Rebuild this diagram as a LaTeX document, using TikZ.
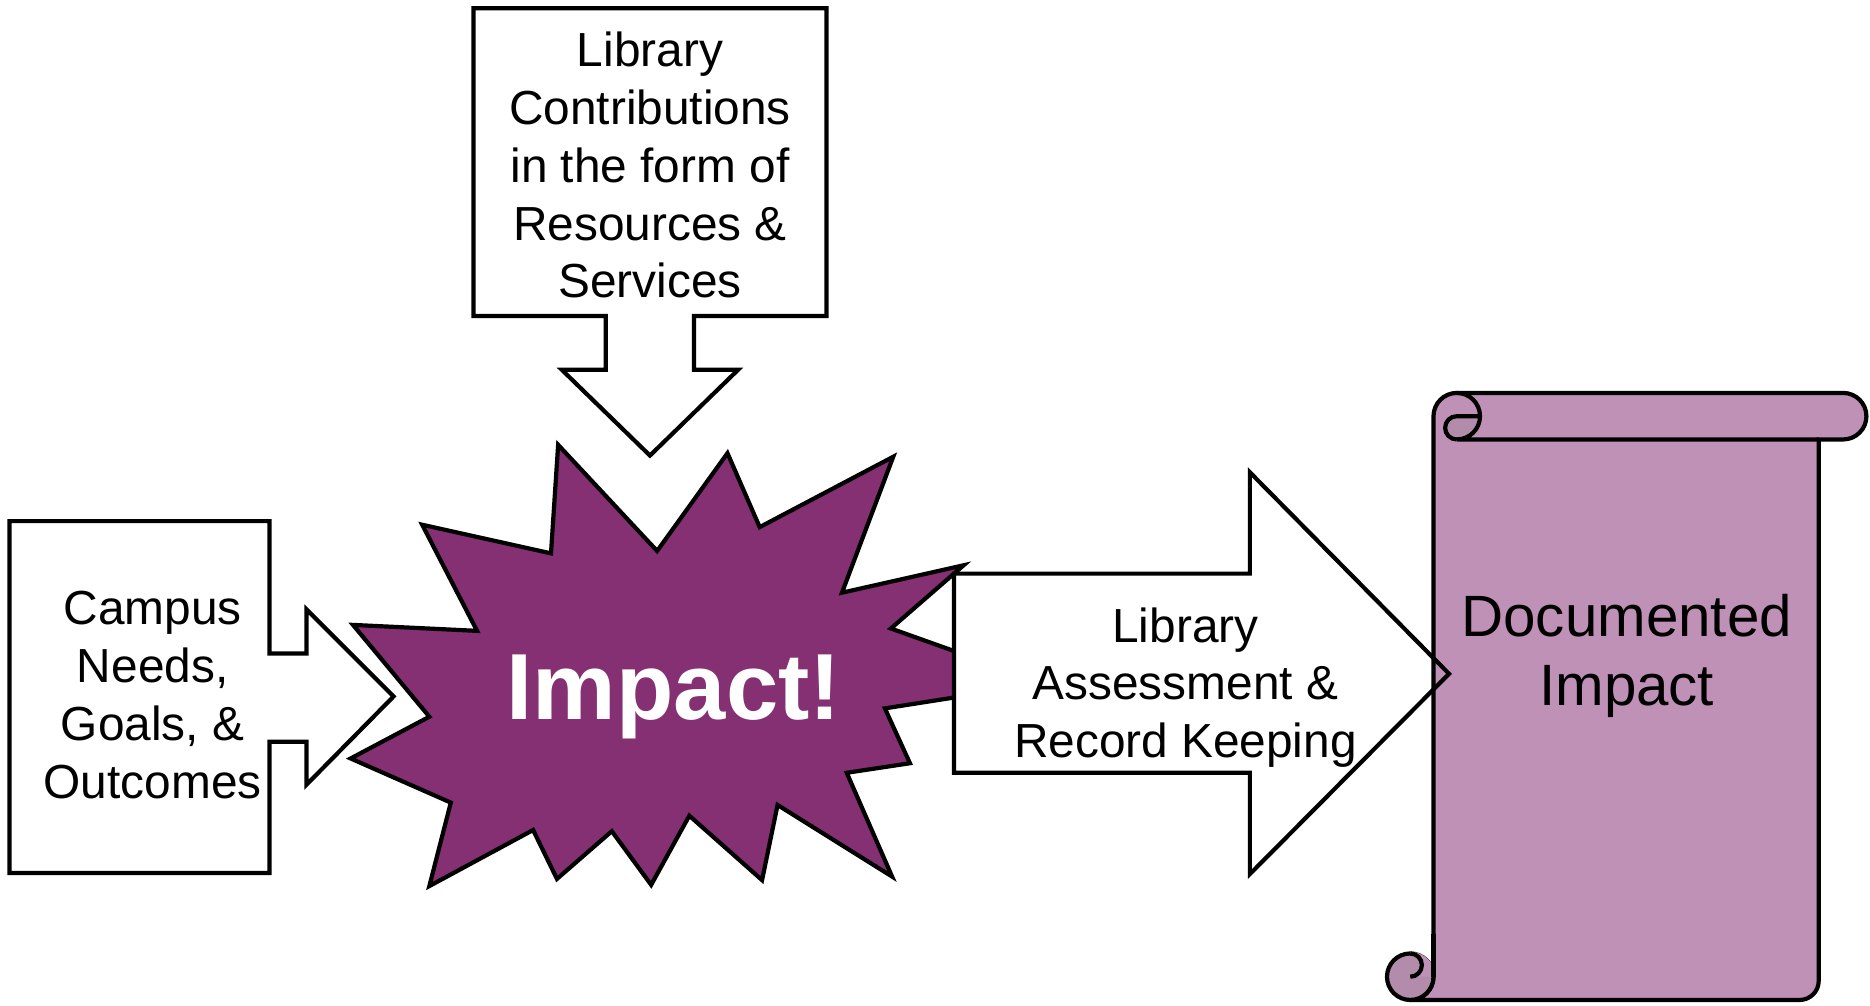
\documentclass[tikz,border=0pt]{standalone}
\usepackage{fontspec}
\setmainfont{Liberation Sans}
\usetikzlibrary{calc}

\definecolor{starpurple}{RGB}{132,48,115}
\definecolor{scrollpink}{RGB}{192,145,182}
\definecolor{curlpink}{RGB}{178,140,170}

\tikzset{
    shapeline/.style={draw=black, line width=1pt},
    boxtext/.style={align=center, inner sep=0pt, font=\fontsize{11.4}{13.8}\selectfont},
}

\newcommand{\recordarrow}{(800,362) -- (1048,362) -- (1048,447) -- (1215,278) -- (1048,110) -- (1048,195) -- (800,195) -- cycle}

\begin{document}
\begin{tikzpicture}[x=0.01cm, y=0.01cm]
    \useasboundingbox (0,0) rectangle (1568,843);

    \coordinate (T) at (1221.5,494);
    \coordinate (B) at (1182.5,24);

    % callouts
    \draw[shapeline, fill=white] (8,406) -- (226,406) -- (226,295) -- (257,295) -- (257,332) -- (330,259)
        -- (257,185) -- (257,221) -- (226,221) -- (226,111) -- (8,111) -- cycle;
    \draw[shapeline, fill=white] (397,836) -- (693,836) -- (693,578) -- (582,578) -- (582,533) -- (619,533)
        -- (545,461) -- (471,533) -- (508,533) -- (508,578) -- (397,578) -- cycle;

    % the star
    \draw[shapeline, fill=starpurple] (468,470) -- (551,381) -- (610,463) -- (637,401) -- (749,460) -- (706,346)
        -- (808,369) -- (747,316) -- (876,270) -- (742,249) -- (763,203) -- (710,195) -- (748,108)
        -- (652,168) -- (639,105) -- (578,159) -- (546,101) -- (513,146) -- (467,106) -- (447,147)
        -- (360,100) -- (378,170) -- (294,207) -- (360,242) -- (296,319) -- (400,314) -- (354,403)
        -- (462,379) -- cycle;

    \fill[white] \recordarrow;

    % the scroll
    \draw[shapeline, fill=scrollpink] (1202,494) arc[start angle=180, end angle=90, radius=19.5]
        -- (1545.5,513.5) arc[start angle=90, end angle=-90, radius=19.5] -- (1525,474.5) -- (1525,20.5)
        arc[start angle=0, end angle=-90, radius=16] -- (1182.5,4.5)
        arc[start angle=-90, end angle=0, radius=19.5] -- cycle;

    \fill[curlpink] (T) -- ($(T)+(19.5,0)$) arc[start angle=0, end angle=-90, radius=19.5]
        arc[start angle=-90, end angle=-270, radius=9.75] -- cycle;
    \draw[shapeline] ($(T)+(0,19.5)$) arc[start angle=90, end angle=-90, radius=19.5] -- (1525,474.5);
    \draw[shapeline] ($(T)+(19.5,0)$) -- (T) arc[start angle=90, end angle=270, radius=9.75];

    \draw[shapeline, fill=curlpink] (B) circle[radius=19.5];
    \fill[scrollpink] ($(B)+(0,21)$) arc[start angle=90, end angle=0, radius=21] -- (B)
        arc[start angle=-90, end angle=90, radius=9.75] -- cycle;
    \draw[shapeline] (1202,60) -- (1202,24);
    \draw[shapeline] ($(B)+(0,19.5)$) arc[start angle=90, end angle=-90, radius=9.75];

    \draw[shapeline] \recordarrow;

    \node[boxtext] (campus) at (128,260) {Campus\\Needs,\\Goals, \&\\Outcomes};
    \node[boxtext] (contrib) at (545,704.5) {Library\\Contributions\\in the form of\\Resources \&\\Services};
    \node[boxtext] (assess) at (994,266.5) {Library\\Assessment \&\\Record Keeping};
    \node[align=center, inner sep=0pt, font=\fontsize{13.9}{16.5}\selectfont] (documented) at (1364,293) {Documented\\Impact};
    \node[anchor=base, inner sep=0pt, text=white, font=\fontsize{22.4}{26}\selectfont\bfseries] (impact) at (565,240) {Impact!};
\end{tikzpicture}
\end{document}
